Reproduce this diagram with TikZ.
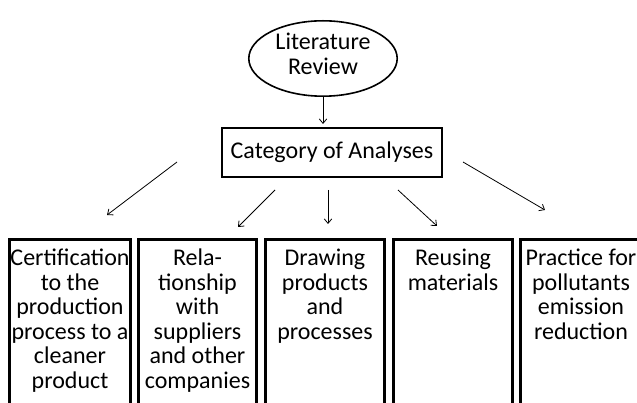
\documentclass[tikz,border=0pt]{standalone}
\usepackage{fontspec}
\setmainfont{Carlito}
\usetikzlibrary{shapes.geometric, arrows.meta}
\begin{document}
\begin{tikzpicture}[x=1pt, y=-1pt,
		every node/.style={font=\fontsize{24}{24.5}\selectfont},
		rectpart/.style={rectangle, draw, line width=3pt, anchor=north, inner xsep=0pt, inner ysep=9pt},
		arr/.style={-{Straight Barb[length=4.5pt,width=7.5pt]}, line width=0.8pt}]
		\useasboundingbox (0,0) rectangle (637,403);
		\clip (0,0) rectangle (637,403);
		
		\node (ellreview) [ellipse, draw, line width=1.6pt, minimum width=148.4pt, minimum height=75.4pt, inner sep=0pt, text depth=33.6pt] at (323,58.5) {\parbox[t]{100pt}{\centering Literature\\ Review}};
		
		\node (rectcategory) [rectangle, draw, line width=1.6pt, minimum width=220.4pt, minimum height=49.4pt] at (332,152.5) {Category of Analyses};
		
		\node (rectcert) [rectpart] at (70,238.5) {\parbox[t][185pt][t]{121pt}{\centering Certification\\ to the\\ production\\ process to a\\ cleaner\\ product}};
		
		\node (rectrel) [rectpart] at (197.5,238.5) {\parbox[t][185pt][t]{118pt}{\centering Rela-\\ tionship\\ with\\ suppliers\\ and other\\ companies}};
		
		\node (rectdraw) [rectpart] at (325,238.5) {\parbox[t][185pt][t]{119pt}{\centering Drawing\\ products\\ and\\ processes}};
		
		\node (rectreuse) [rectpart] at (453,238.5) {\parbox[t][185pt][t]{119pt}{\centering Reusing\\ materials}};
		
		\node (rectpract) [rectpart] at (581,238.5) {\parbox[t][185pt][t]{121pt}{\centering Practice for\\ pollutants\\ emission\\ reduction}};
		
		% free ends of the arrows
		\coordinate (certstart) at (177,162);
		\coordinate (certend) at (107,215);
		\coordinate (relstart) at (275,190);
		\coordinate (relend) at (238,227);
		\coordinate (drawstart) at (328,190);
		\coordinate (drawend) at (328,224);
		\coordinate (reusestart) at (398,190);
		\coordinate (reuseend) at (437,226);
		\coordinate (practstart) at (463,162);
		\coordinate (practend) at (545,210);
		
		\draw [arr, shorten >=3pt] (ellreview.south) to (ellreview.south |- rectcategory.north);
		\draw [arr] (certstart) to (certend);
		\draw [arr] (relstart) to (relend);
		\draw [arr] (drawstart) to (drawend);
		\draw [arr] (reusestart) to (reuseend);
		\draw [arr] (practstart) to (practend);
		
		\end{tikzpicture}
\end{document}
